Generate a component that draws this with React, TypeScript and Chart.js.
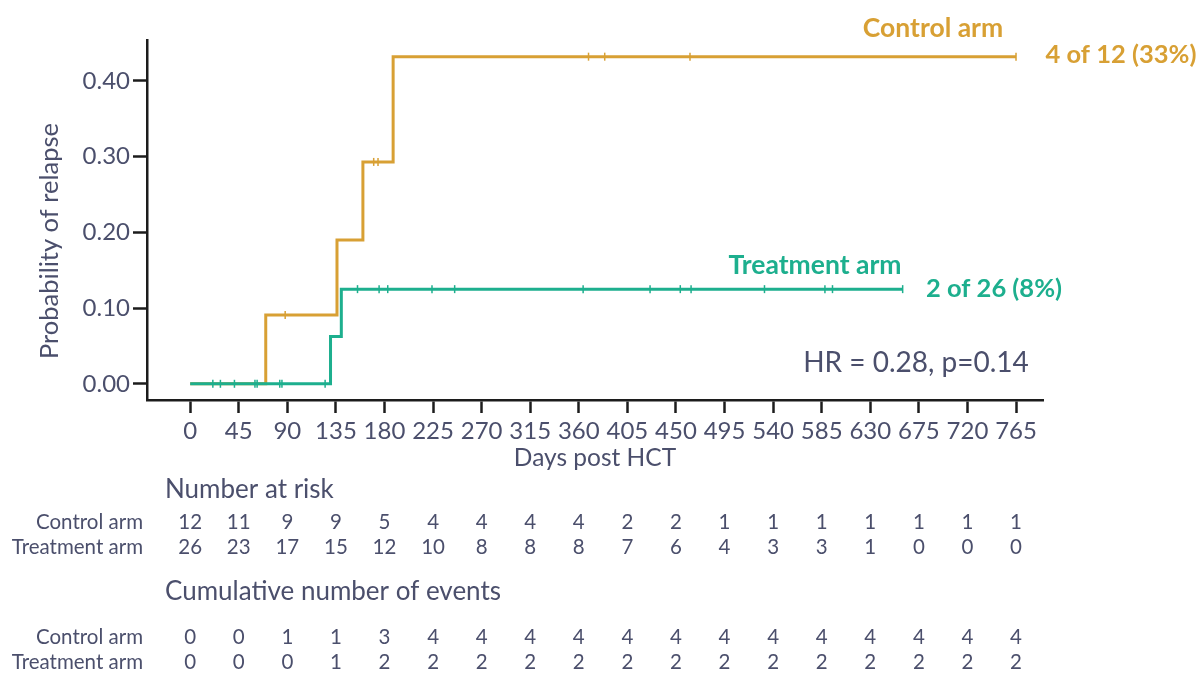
import React, { useEffect, useRef } from "react";
import { Chart, registerables } from "chart.js";

Chart.register(...registerables);

// ---- Data ----
const xTickValues = [0, 45, 90, 135, 180, 225, 270, 315, 360, 405, 450, 495, 540, 585, 630, 675, 720, 765];
const yTickValues = [0, 0.1, 0.2, 0.3, 0.4];

const controlTimes = [0, 70, 136, 160, 188, 765];
const controlProb = [0, 0.091, 0.19, 0.293, 0.432, 0.432];
const controlCensorTimes = [88, 170, 174, 369, 384, 463, 765];

const treatmentTimes = [0, 130, 140, 660];
const treatmentProb = [0, 0.0625, 0.125, 0.125];
const treatmentCensorTimes = [21, 28, 41, 60, 62, 83, 85, 125, 155, 175, 183, 224, 245, 364, 426, 454, 464, 532, 588, 595, 660];

const riskControl = [12, 11, 9, 9, 5, 4, 4, 4, 4, 2, 2, 1, 1, 1, 1, 1, 1, 1];
const riskTreatment = [26, 23, 17, 15, 12, 10, 8, 8, 8, 7, 6, 4, 3, 3, 1, 0, 0, 0];
const eventsControl = [0, 0, 1, 1, 3, 4, 4, 4, 4, 4, 4, 4, 4, 4, 4, 4, 4, 4];
const eventsTreatment = [0, 0, 0, 1, 2, 2, 2, 2, 2, 2, 2, 2, 2, 2, 2, 2, 2, 2];

const controlLabel = "Control arm";
const treatmentLabel = "Treatment arm";
const controlSummary = "4 of 12 (33%)";
const treatmentSummary = "2 of 26 (8%)";
const hrText = "HR = 0.28, p=0.14";
const yTitle = "Probability of relapse";
const xTitle = "Days post HCT";
const riskHeader = "Number at risk";
const eventsHeader = "Cumulative number of events";

// ---- Style ----
const ORANGE = "#D8A034";
const TEAL = "#1DAF8E";
const TEXT = "#4B4F6C";
const AXIS = "#1c1c1c";
const FONT = "Lato, 'Open Sans', sans-serif";

function stepValue(times: number[], probs: number[], t: number) {
  let v = probs[0];
  for (let i = 0; i < times.length; i++) if (times[i] <= t) v = probs[i];
  return v;
}

const overlayPlugin = {
  id: "kmOverlay",
  afterDraw(chart: any) {
    const ctx = chart.ctx as CanvasRenderingContext2D;
    const xs = chart.scales.x;
    ctx.save();
    ctx.textBaseline = "middle";

    // Y axis title
    ctx.save();
    ctx.translate(50, 241);
    ctx.rotate(-Math.PI / 2);
    ctx.textAlign = "center";
    ctx.fillStyle = TEXT;
    ctx.font = `25.5px ${FONT}`;
    ctx.fillText(yTitle, 0, 0);
    ctx.restore();

    // Annotations
    ctx.textAlign = "center";
    ctx.font = `bold 26.5px ${FONT}`;
    ctx.fillStyle = ORANGE;
    ctx.fillText(controlLabel, 933, 28);
    ctx.fillStyle = TEAL;
    ctx.fillText(treatmentLabel, 815, 265);
    ctx.font = `bold 25.5px ${FONT}`;
    ctx.fillStyle = ORANGE;
    ctx.fillText(controlSummary, 1121, 55);
    ctx.fillStyle = TEAL;
    ctx.fillText(treatmentSummary, 994, 289);
    ctx.fillStyle = TEXT;
    ctx.font = `28px ${FONT}`;
    ctx.fillText(hrText, 916, 363);

    // Table headers
    ctx.textAlign = "left";
    ctx.font = `26px ${FONT}`;
    ctx.fillText(riskHeader, 165, 490);
    ctx.fillText(eventsHeader, 165, 592);

    const rows: [string, number[], number][] = [
      [controlLabel, riskControl, 522],
      [treatmentLabel, riskTreatment, 547],
      [controlLabel, eventsControl, 637],
      [treatmentLabel, eventsTreatment, 662],
    ];
    ctx.font = `20.5px ${FONT}`;
    for (const [label, vals, y] of rows) {
      ctx.textAlign = "right";
      ctx.fillText(label, 143, y);
      ctx.textAlign = "center";
      vals.forEach((v, i) => {
        const px = xs.getPixelForValue(xTickValues[i]);
        ctx.fillText(String(v), px, y);
      });
    }
    ctx.restore();
  },
};

export default function App() {
  const ref = useRef<HTMLCanvasElement | null>(null);

  useEffect(() => {
    if (!ref.current) return;
    const chart = new Chart(ref.current, {
      type: "line",
      data: {
        datasets: [
          {
            label: treatmentLabel,
            data: treatmentTimes.map((t, i) => ({ x: t, y: treatmentProb[i] })),
            borderColor: TEAL,
            borderWidth: 3,
            stepped: "before",
            pointRadius: 0,
            fill: false,
            order: 1,
          },
          {
            type: "scatter",
            label: "Treatment censored",
            data: treatmentCensorTimes.map((t) => ({ x: t, y: stepValue(treatmentTimes, treatmentProb, t) })),
            borderColor: TEAL,
            backgroundColor: TEAL,
            pointStyle: "line",
            rotation: 90,
            pointRadius: 4,
            borderWidth: 1.5,
            showLine: false,
            order: 0,
          },
          {
            label: controlLabel,
            data: controlTimes.map((t, i) => ({ x: t, y: controlProb[i] })),
            borderColor: ORANGE,
            borderWidth: 3,
            stepped: "before",
            pointRadius: 0,
            fill: false,
            order: 3,
          },
          {
            type: "scatter",
            label: "Control censored",
            data: controlCensorTimes.map((t) => ({ x: t, y: stepValue(controlTimes, controlProb, t) })),
            borderColor: ORANGE,
            backgroundColor: ORANGE,
            pointStyle: "line",
            rotation: 90,
            pointRadius: 4,
            borderWidth: 1.5,
            showLine: false,
            order: 2,
          },
        ] as any,
      },
      options: {
        animation: false,
        responsive: false,
        devicePixelRatio: 1,
        layout: { padding: { left: 0, top: 40, right: 157, bottom: 205 } },
        plugins: { legend: { display: false }, tooltip: { enabled: false } },
        scales: {
          x: {
            type: "linear",
            min: -40,
            max: 790,
            afterBuildTicks: (s: any) => {
              s.ticks = xTickValues.map((v) => ({ value: v }));
            },
            afterFit: (s: any) => {
              s.height = 70;
            },
            ticks: {
              autoSkip: false,
              maxRotation: 0,
              color: TEXT,
              font: { family: FONT, size: 24 },
              padding: 4,
              callback: (v: any) => String(v),
            },
            grid: {
              drawOnChartArea: false,
              drawTicks: true,
              tickLength: 13,
              tickWidth: 2.5,
              tickColor: AXIS,
            },
            border: { display: true, color: AXIS, width: 2.5 },
            title: {
              display: true,
              text: xTitle,
              color: TEXT,
              font: { family: FONT, size: 24.5, lineHeight: 1 },
              padding: 0,
            },
          },
          y: {
            type: "linear",
            min: -0.0214,
            max: 0.454,
            afterBuildTicks: (s: any) => {
              s.ticks = yTickValues.map((v) => ({ value: v }));
            },
            afterFit: (s: any) => {
              s.width = 147;
            },
            ticks: {
              color: TEXT,
              font: { family: FONT, size: 24 },
              padding: 3,
              callback: (v: any) => Number(v).toFixed(2),
            },
            grid: {
              drawOnChartArea: false,
              drawTicks: true,
              tickLength: 14,
              tickWidth: 2.5,
              tickColor: AXIS,
            },
            border: { display: true, color: AXIS, width: 2.5 },
          },
        },
      },
      plugins: [overlayPlugin],
    });
    return () => chart.destroy();
  }, []);

  return (
    <div style={{ position: "absolute", left: 0, top: 0, width: 1200, height: 675, background: "#fff" }}>
      <canvas ref={ref} width={1200} height={675} style={{ width: 1200, height: 675, display: "block" }} />
    </div>
  );
}
